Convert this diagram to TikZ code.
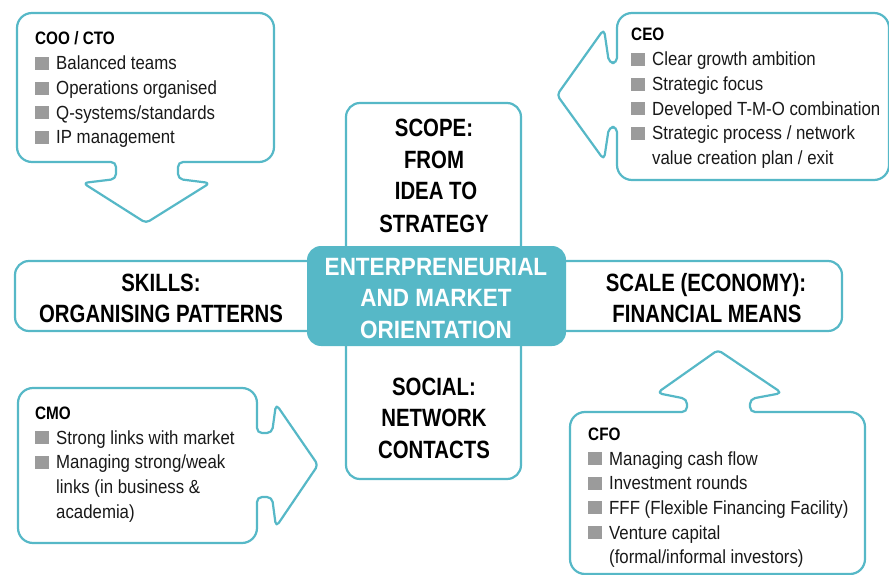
\documentclass[tikz,border=0pt]{standalone}
\usepackage{fontspec}
\setmainfont{Liberation Sans}[FakeStretch=0.85]
\newfontfamily\itemfam{Liberation Sans}[FakeStretch=0.885]
\newfontfamily\bigfam{Liberation Sans}[FakeStretch=0.815]
\newfontfamily\hubfam{Liberation Sans}[FakeStretch=0.9]
\definecolor{tealc}{RGB}{86,184,199}
\definecolor{bulgray}{RGB}{155,155,155}
\definecolor{txt}{RGB}{25,25,25}
\newcommand{\itemfnt}{\itemfam\fontsize{19}{25}\selectfont}
\newcommand{\headfnt}{\fontsize{18}{25}\selectfont\bfseries}
\newcommand{\bigfnt}{\bigfam\fontsize{25}{32}\selectfont\bfseries}
\newcommand{\hubfnt}{\hubfam\fontsize{25}{32}\selectfont\bfseries}
\newcommand{\bul}{\textcolor{bulgray}{\rule{14pt}{13pt}}\hspace{7pt}}
\newcommand{\ind}{\hspace{21pt}}
\tikzset{
  callout/.style={draw=tealc, line width=2.2pt, fill=white, line join=round},
  panel/.style={draw=tealc, line width=2.2pt, fill=white, rounded corners=14pt},
  hub/.style={fill=tealc, rounded corners=14pt},
  item/.style={anchor=base west, inner sep=0pt, font=\itemfnt, text=txt},
  head/.style={anchor=base west, inner sep=0pt, font=\headfnt, text=black},
  big/.style={anchor=base, inner sep=0pt, font=\bigfnt, text=black},
  bigw/.style={anchor=base, inner sep=0pt, font=\hubfnt, text=white},
}
\begin{document}
\begin{tikzpicture}[x=1pt,y=-1pt]
\useasboundingbox (0,0) rectangle (889,575);

% central cross
\draw[panel] (15,261) rectangle (842,331);
\draw[panel] (346,103) rectangle (521,479);
\fill[hub] (307,246) rectangle (566,346);

% COO / CTO callout (arrow down)
\draw[callout] (145,13) [rounded corners=15pt] -- (274,13) -- (274,162)
  [rounded corners=5pt] -- (178,162) -- (178,179) -- (210,183)
  [rounded corners=4pt] -- (146,223) [rounded corners=5pt] -- (83,183) -- (116,179) -- (116,162)
  [rounded corners=15pt] -- (17,162) -- (17,13) -- cycle;

% CEO callout (arrow left)
\draw[callout] (750,13) [rounded corners=15pt] -- (889,13) -- (889,180) -- (617,180)
  [rounded corners=5pt] -- (617,127) -- (609,127) -- (604,160)
  [rounded corners=4pt] -- (557,95) [rounded corners=5pt] -- (604,29) -- (609,63) -- (617,63)
  [rounded corners=15pt] -- (617,13) -- cycle;

% CMO callout (arrow right)
\draw[callout] (150,388) [rounded corners=15pt] -- (257,388)
  [rounded corners=5pt] -- (257,433) -- (272,433) -- (276,404)
  [rounded corners=4pt] -- (318,465) [rounded corners=5pt] -- (276,527) -- (272,497) -- (257,497)
  [rounded corners=15pt] -- (257,543) -- (18,543) -- (18,388) -- cycle;

% CFO callout (arrow up)
\draw[callout] (620,574) [rounded corners=15pt] -- (570,574) -- (570,412)
  [rounded corners=5pt] -- (687,412) -- (687,399) -- (657,393)
  [rounded corners=4pt] -- (718,350) [rounded corners=5pt] -- (782,393) -- (750,399) -- (750,412)
  [rounded corners=15pt] -- (865,412) -- (865,574) -- cycle;

% central texts
\node[big] (scope1) at (434,137) {SCOPE:};
\node[big] (scope2) at (434,168.5) {FROM};
\node[big] (scope3) at (436,200) {IDEA TO};
\node[big] (scope4) at (434,232) {STRATEGY};
\node[bigw] (hub1) at (436,275) {ENTERPRENEURIAL};
\node[bigw] (hub2) at (436,306.5) {AND MARKET};
\node[bigw] (hub3) at (436,338) {ORIENTATION};
\node[big] (social1) at (434,395) {SOCIAL:};
\node[big] (social2) at (434,426.5) {NETWORK};
\node[big] (social3) at (434,458) {CONTACTS};
\node[big] (skills1) at (161,291) {SKILLS:};
\node[big] (skills2) at (161,322) {ORGANISING PATTERNS};
\node[big] (scale1) at (706,291) {SCALE (ECONOMY):};
\node[big] (scale2) at (707,322) {FINANCIAL MEANS};

% COO / CTO
\node[head] (cooh) at (35,45) {COO / CTO};
\node[item] (coo1) at (35,70) {\bul Balanced teams};
\node[item] (coo2) at (35,94.7) {\bul Operations organised};
\node[item] (coo3) at (35,119.4) {\bul Q-systems/standards};
\node[item] (coo4) at (35,144) {\bul IP management};

% CEO
\node[head] (ceoh) at (631,41) {CEO};
\node[item] (ceo1) at (631,66) {\bul Clear growth ambition};
\node[item] (ceo2) at (631,90.7) {\bul Strategic focus};
\node[item] (ceo3) at (631,115.4) {\bul Developed T-M-O combination};
\node[item] (ceo4) at (631,140) {\bul Strategic process / network};
\node[item] (ceo5) at (631,164.7) {\ind value creation plan / exit};

% CMO
\node[head] (cmoh) at (35,419) {CMO};
\node[item] (cmo1) at (35,444) {\bul Strong links with market};
\node[item] (cmo2) at (35,468.7) {\bul Managing strong/weak};
\node[item] (cmo3) at (35,493.4) {\ind links (in business \&};
\node[item] (cmo4) at (35,518) {\ind academia)};

% CFO
\node[head] (cfoh) at (588,440) {CFO};
\node[item] (cfo1) at (588,465) {\bul Managing cash flow};
\node[item] (cfo2) at (588,489.7) {\bul Investment rounds};
\node[item] (cfo3) at (588,514.4) {\bul FFF (Flexible Financing Facility)};
\node[item] (cfo4) at (588,539) {\bul Venture capital};
\node[item] (cfo5) at (588,563.7) {\ind (formal/informal investors)};
\end{tikzpicture}
\end{document}
